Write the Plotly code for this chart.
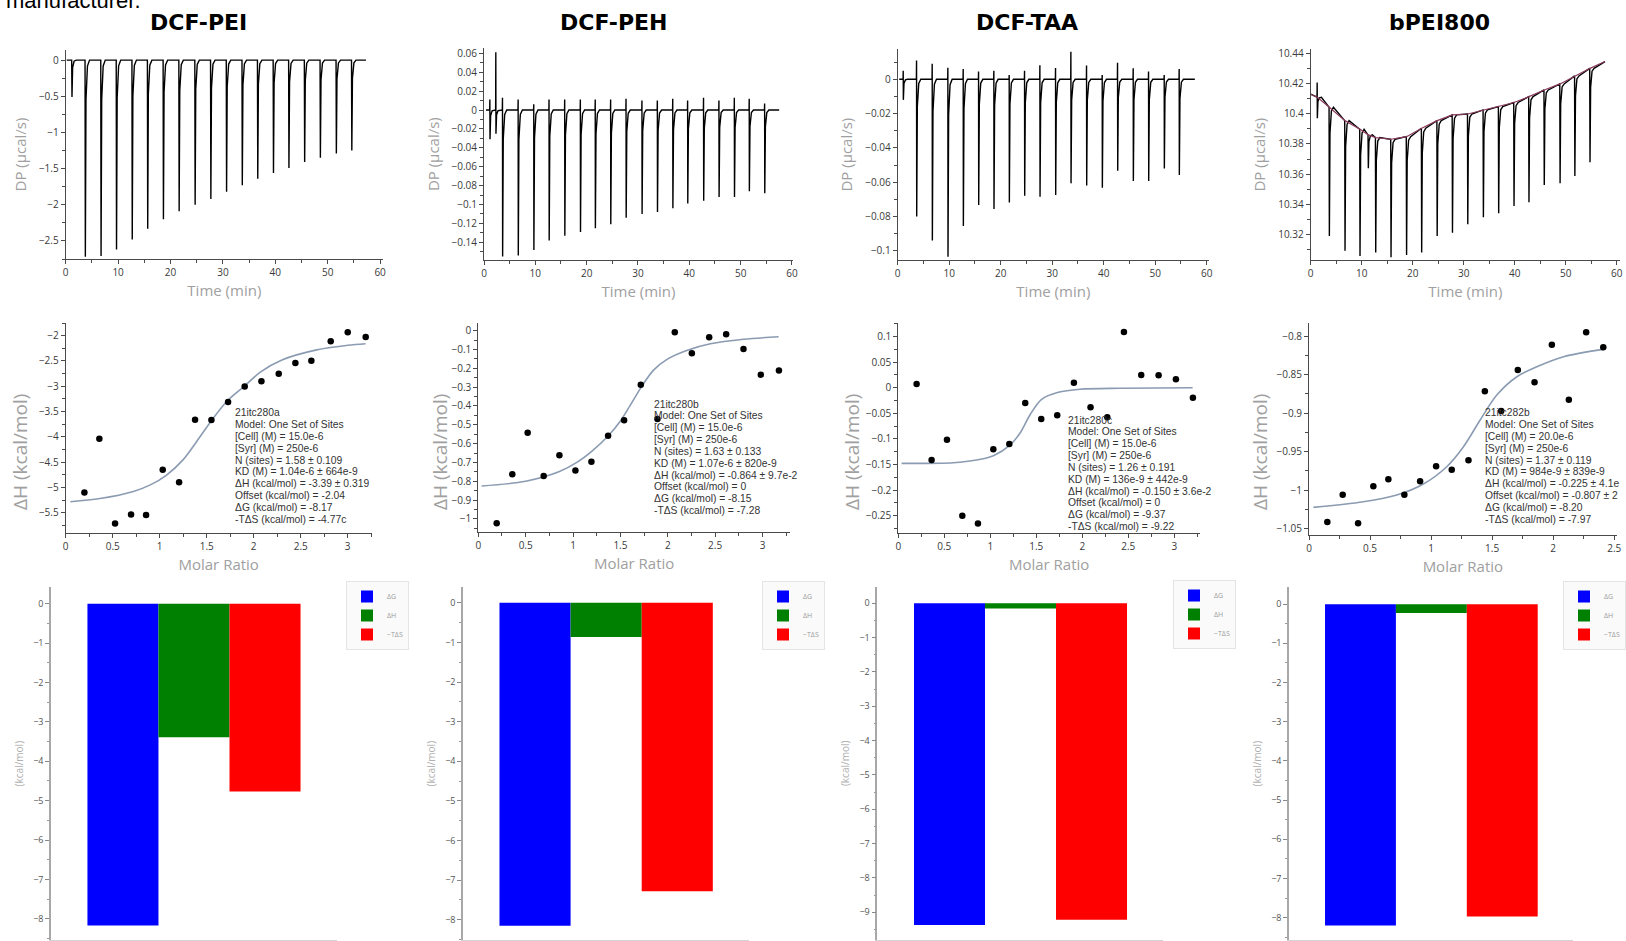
import plotly.graph_objects as go

W, H = 1626, 941

# ------------------------------------------------------------------ data
titles = ["DCF-PEI", "DCF-PEH", "DCF-TAA", "bPEI800"]

# Row 1 : raw thermograms (time in min, DP in µcal/s)
pei_t_span = [0.2, 57.3]
pei_base_span = [0.0, 0.0]
pei_inj_t = [1.2, 3.75, 6.75, 9.7, 12.7, 15.65, 18.65, 21.65, 24.7, 27.7, 30.7,
             33.7, 36.65, 39.65, 42.6, 45.6, 48.6, 51.65, 54.6]
pei_inj_peak = [-0.51, -2.72, -2.71, -2.62, -2.48, -2.33, -2.20, -2.09, -2.00, -1.92,
                -1.82, -1.73, -1.64, -1.56, -1.49, -1.41, -1.35, -1.29, -1.25]

peh_t_span = [0.4, 57.5]
peh_base_span = [0.0, 0.0]
peh_inj_t = [1.17, 2.33, 3.63, 6.68, 9.72, 12.7, 15.75, 18.8, 21.7, 24.7, 27.7, 30.8,
             33.8, 36.8, 39.7, 42.8, 45.8, 48.8, 51.7, 54.7]
peh_inj_peak = [-0.031, -0.025, -0.155, -0.154, -0.148, -0.138, -0.133, -0.129, -0.125,
                -0.121, -0.114, -0.110, -0.108, -0.104, -0.099, -0.096, -0.092, -0.092,
                -0.086, -0.088]
peh_inj_up = [0.011, 0.061, 0.013, 0.011, 0.006, 0.011, 0.011, 0.011, 0.011, 0.011,
              0.012, 0.010, 0.010, 0.012, 0.010, 0.013, 0.010, 0.013, 0.012, 0.007]

taa_t_span = [0.3, 57.7]
taa_base_span = [0.0, 0.0]
taa_inj_t = [1.1, 3.69, 6.73, 9.77, 12.75, 15.73, 18.7, 21.68, 24.66, 27.64, 30.68,
             33.66, 36.7, 39.74, 42.72, 45.76, 48.74, 51.78, 54.69]
taa_inj_peak = [-0.012, -0.080, -0.094, -0.1035, -0.0856, -0.0733, -0.0757, -0.0718,
                -0.0679, -0.0685, -0.0675, -0.0607, -0.062, -0.0632, -0.0533, -0.0593,
                -0.0593, -0.052, -0.0558]
taa_inj_up = [0.005, 0.011, 0.009, 0.0068, 0.006, 0.0045, 0.005, 0.0025, 0.005, 0.0082,
              0.0066, 0.016, 0.008, 0.0025, 0.0097, 0.0064, 0.0045, 0.0025, 0.006]

bpei_t_span = [0.0, 57.7]
bpei_base_span = [10.4129, 10.4345]
bpei_inj_t = [1.3, 3.66, 6.73, 9.67, 11.3, 12.75, 15.75, 18.8, 21.76, 24.8, 27.8, 30.8,
              33.86, 36.86, 39.87, 42.8, 45.8, 48.9, 51.8, 54.77]
bpei_inj_base = [10.4109, 10.4043, 10.3954, 10.3897, 10.386, 10.3842, 10.3831, 10.3848,
                 10.3904, 10.3954, 10.3992, 10.3998, 10.4025, 10.4047, 10.4074, 10.4113,
                 10.4157, 10.4197, 10.425, 10.43]
bpei_inj_peak = [10.397, 10.3191, 10.3094, 10.3059, 10.3639, 10.3081, 10.305, 10.3065,
                 10.3081, 10.3191, 10.3213, 10.3268, 10.3315, 10.3341, 10.339, 10.3414,
                 10.3529, 10.354, 10.3588, 10.3679]
bpei_inj_up = [10.4206] + [None] * 19

# Row 2 : integrated heats (molar ratio, ΔH kcal/mol) and fitted curves
pei_ratio = [0.199, 0.358, 0.525, 0.695, 0.855, 1.032, 1.206, 1.376, 1.55, 1.727, 1.904,
             2.082, 2.266, 2.443, 2.613, 2.819, 3.0, 3.191]
pei_dh = [-5.098, -4.037, -5.711, -5.533, -5.546, -4.65, -4.90, -3.661, -3.668, -3.312,
          -3.002, -2.903, -2.751, -2.541, -2.494, -2.112, -1.934, -2.026]
pei_fit_x = [0.05, 0.365, 0.72, 0.9, 1.07, 1.25, 1.39, 1.55, 1.713, 1.9, 2.07, 2.3, 2.67,
             3.0, 3.19]
pei_fit_y = [-5.284, -5.22, -5.08, -4.95, -4.76, -4.45, -4.1, -3.68, -3.3, -3.0, -2.72,
             -2.48, -2.28, -2.19, -2.158]

peh_ratio = [0.194, 0.359, 0.521, 0.69, 0.856, 1.025, 1.194, 1.37, 1.539, 1.715, 1.891,
             2.074, 2.254, 2.437, 2.616, 2.799, 2.982, 3.173]
peh_dh = [-1.023, -0.763, -0.543, -0.772, -0.662, -0.743, -0.697, -0.558, -0.476, -0.288,
          -0.469, -0.009, -0.120, -0.035, -0.019, -0.097, -0.234, -0.212]
peh_fit_x = [0.035, 0.5, 0.85, 1.04, 1.2, 1.37, 1.5, 1.6, 1.72, 1.85, 2.0, 2.2, 2.45,
             2.8, 3.17]
peh_fit_y = [-0.825, -0.80, -0.75, -0.70, -0.64, -0.56, -0.48, -0.40, -0.30, -0.21,
             -0.15, -0.105, -0.07, -0.046, -0.033]

taa_ratio = [0.199, 0.362, 0.529, 0.696, 0.866, 1.033, 1.207, 1.38, 1.554, 1.728, 1.909,
             2.09, 2.272, 2.453, 2.641, 2.83, 3.018, 3.203]
taa_dh = [0.0074, -0.1412, -0.1014, -0.25, -0.265, -0.1203, -0.1099, -0.0297, -0.061,
          -0.0538, 0.01, -0.0382, -0.0578, 0.1091, 0.025, 0.0244, 0.0166, -0.0193]
taa_fit_x = [0.036, 0.598, 0.851, 1.033, 1.214, 1.322, 1.431, 1.558, 1.739, 1.975, 2.41,
             3.2]
taa_fit_y = [-0.1477, -0.1464, -0.1412, -0.1327, -0.1119, -0.089, -0.0532, -0.0226,
             -0.0089, -0.003, -0.001, 0.0]

bpei_ratio = [0.150, 0.276, 0.402, 0.527, 0.650, 0.781, 0.910, 1.041, 1.169, 1.306, 1.44,
              1.574, 1.71, 1.847, 1.989, 2.128, 2.27, 2.41]
bpei_dh = [-1.0413, -1.0059, -1.0431, -0.995, -0.986, -1.0059, -0.9886, -0.9691, -0.9734,
           -0.9613, -0.8718, -0.8973, -0.8441, -0.8601, -0.8112, -0.8826, -0.7952, -0.8147]
bpei_fit_x = [0.036, 0.445, 0.719, 0.937, 1.128, 1.265, 1.402, 1.538, 1.702, 1.866, 2.085,
              2.41]
bpei_fit_y = [-1.0223, -1.015, -1.0063, -0.992, -0.9696, -0.9436, -0.909, -0.8766,
              -0.8528, -0.8398, -0.8268, -0.8173]

fit_labels = [
    ["21itc280a", "Model: One Set of Sites", "[Cell] (M) = 15.0e-6", "[Syr] (M) = 250e-6",
     "N (sites) = 1.58 ± 0.109", "KD (M) = 1.04e-6 ± 664e-9",
     "ΔH (kcal/mol) = -3.39 ± 0.319", "Offset (kcal/mol) = -2.04",
     "ΔG (kcal/mol) = -8.17", "-TΔS (kcal/mol) = -4.77c"],
    ["21itc280b", "Model: One Set of Sites", "[Cell] (M) = 15.0e-6", "[Syr] (M) = 250e-6",
     "N (sites) = 1.63 ± 0.133", "KD (M) = 1.07e-6 ± 820e-9",
     "ΔH (kcal/mol) = -0.864 ± 9.7e-2", "Offset (kcal/mol) = 0",
     "ΔG (kcal/mol) = -8.15", "-TΔS (kcal/mol) = -7.28"],
    ["21itc280c", "Model: One Set of Sites", "[Cell] (M) = 15.0e-6", "[Syr] (M) = 250e-6",
     "N (sites) = 1.26 ± 0.191", "KD (M) = 136e-9 ± 442e-9",
     "ΔH (kcal/mol) = -0.150 ± 3.6e-2", "Offset (kcal/mol) = 0",
     "ΔG (kcal/mol) = -9.37", "-TΔS (kcal/mol) = -9.22"],
    ["21itc282b", "Model: One Set of Sites", "[Cell] (M) = 20.0e-6", "[Syr] (M) = 250e-6",
     "N (sites) = 1.37 ± 0.119", "KD (M) = 984e-9 ± 839e-9",
     "ΔH (kcal/mol) = -0.225 ± 4.1e", "Offset (kcal/mol) = -0.807 ± 2",
     "ΔG (kcal/mol) = -8.20", "-TΔS (kcal/mol) = -7.97"],
]

# Row 3 : thermodynamic signatures (kcal/mol)
bar_terms = ["ΔG", "ΔH", "−TΔS"]
pei_bars = [-8.17, -3.39, -4.77]
peh_bars = [-8.15, -0.864, -7.28]
taa_bars = [-9.37, -0.150, -9.22]
bpei_bars = [-8.20, -0.225, -7.97]

caption_fragment = "manufacturer."

# ------------------------------------------------------------------ helpers
def thermogram(t_span, base_span, inj_t, peaks, bases=None, ups=None):
    n = len(inj_t)
    bases = bases if bases is not None else [base_span[0]] * n
    ups = ups if ups is not None else [None] * n
    xs, ys = [t_span[0]], [base_span[0]]
    for t, p, b, u in zip(inj_t, peaks, bases, ups):
        xs.append(t - 0.06); ys.append(b)
        if u is not None:
            xs.append(t - 0.03); ys.append(u)
        xs.append(t); ys.append(p)
        xs.append(t + 0.12); ys.append(b + (p - b) * 0.2)
        xs.append(t + 0.4); ys.append(b + (p - b) * 0.03)
        xs.append(t + 0.8); ys.append(b)
    xs.append(t_span[1]); ys.append(base_span[1])
    return xs, ys


def dom_x(a, b):
    return [a / W, b / W]


def dom_y(top, bottom):
    return [1 - bottom / H, 1 - top / H]


TICK_FONT = dict(family="Open Sans", size=10, color="#3a3a3a")
TITLE_FONT = dict(family="Open Sans", size=15, color="#a0a0a0")
AX_LINE = "#4a4a4a"

# panel geometry: (x-left px, x-right px, y-top px, y-bottom px, xrange, yrange, xdtick, ydtick)
panels = [
    # row 1
    (65.7, 383, 50, 259, [0, 60.55], [-2.75, 0.14], 10, 0.5),
    (484, 793, 48.3, 260, [0, 60.2], [-0.1587, 0.0653], 10, 0.02),
    (897.7, 1209, 49.3, 260, [0, 60.45], [-0.1054, 0.0175], 10, 0.02),
    (1310.7, 1620, 49.3, 260, [0, 60.65], [10.3032, 10.4426], 10, 0.02),
    # row 2
    (65.7, 371.7, 322.7, 533.3, [0, 3.255], [-5.907, -1.743], 0.5, 0.5),
    (478.3, 790, 322.7, 532.3, [0, 3.29], [-1.071, 0.042], 0.5, 0.1),
    (898.3, 1200, 323.3, 532.7, [0, 3.28], [-0.2832, 0.126], 0.5, 0.05),
    (1309, 1616.7, 322.7, 535, [0, 2.52], [-1.0582, -0.7827], 0.5, 0.05),
    # row 3
    (51, 336.7, 587.3, 940, [-1.013, 3.009], [-8.54, 0.42], None, 1),
    (463, 749, 587.3, 940, [-1.013, 3.009], [-8.51, 0.39], None, 1),
    (877.3, 1163.3, 586.7, 940, [-1.017, 3.011], [-9.81, 0.485], None, 1),
    (1289, 1573.3, 587.3, 940, [-1.008, 3.002], [-8.57, 0.43], None, 1),
]

fig = go.Figure()
layout = dict(
    width=W, height=H, margin=dict(l=0, r=0, t=0, b=0),
    paper_bgcolor="white", plot_bgcolor="white",
    font=dict(family="Open Sans", color="#333"),
    barmode="overlay", showlegend=True,
)

for i, (xl, xr, yt, yb, xr_, yr_, xdt, ydt) in enumerate(panels):
    n = i + 1
    xa = "xaxis" if n == 1 else f"xaxis{n}"
    ya = "yaxis" if n == 1 else f"yaxis{n}"
    xid = "x" if n == 1 else f"x{n}"
    yid = "y" if n == 1 else f"y{n}"
    row = i // 4
    if row < 2:
        layout[xa] = dict(
            domain=dom_x(xl, xr), range=xr_, anchor=yid, showgrid=False, zeroline=False,
            showline=True, linecolor=AX_LINE, linewidth=1, ticks="outside", ticklen=4,
            tickcolor=AX_LINE, dtick=xdt, tick0=0, tickfont=TICK_FONT,
            ticklabeloverflow="allow",
            minor=dict(dtick=xdt / 2, ticks="outside", ticklen=3, tickcolor=AX_LINE),
            title=dict(text="Time (min)" if row == 0 else "Molar Ratio", font=TITLE_FONT,
                       standoff=7),
            automargin=False,
        )
        layout[ya] = dict(
            domain=dom_y(yt, yb), range=yr_, anchor=xid, showgrid=False, zeroline=False,
            showline=True, linecolor=AX_LINE, linewidth=1, ticks="outside", ticklen=4,
            tickcolor=AX_LINE, dtick=ydt, tick0=0, tickfont=TICK_FONT,
            ticklabeloverflow="allow",
            minor=dict(dtick=ydt / 2, ticks="outside", ticklen=3, tickcolor=AX_LINE),
            title=dict(text="DP (µcal/s)" if row == 0 else "",
                       font=TITLE_FONT, standoff=8),
            automargin=False,
        )
    else:
        layout[xa] = dict(
            domain=dom_x(xl, xr), range=xr_, anchor=yid, type="category",
            showgrid=False, zeroline=False, showline=True, linecolor="#d4d4d4",
            linewidth=1.5, showticklabels=False, ticks="", automargin=False,
        )
        layout[ya] = dict(
            domain=dom_y(yt, yb), range=yr_, anchor=xid, showgrid=False, zeroline=False,
            showline=True, linecolor="#a8a8a8", linewidth=1.5, ticks="outside",
            ticklen=4, tickcolor="#888", dtick=1, tick0=0,
            tickfont=dict(family="Open Sans", size=9, color="#555"),
            ticklabeloverflow="allow",
            minor=dict(dtick=0.5, ticks="outside", ticklen=2, tickcolor="#999"),
            title=dict(text="(kcal/mol)",
                       font=dict(family="Open Sans", size=10, color="#b0b0b0"),
                       standoff=8),
            automargin=False,
        )

# ---- Row 1 traces
thermo_sets = [
    thermogram(pei_t_span, pei_base_span, pei_inj_t, pei_inj_peak),
    thermogram(peh_t_span, peh_base_span, peh_inj_t, peh_inj_peak, ups=peh_inj_up),
    thermogram(taa_t_span, taa_base_span, taa_inj_t, taa_inj_peak, ups=taa_inj_up),
    thermogram(bpei_t_span, bpei_base_span, bpei_inj_t, bpei_inj_peak,
               bases=bpei_inj_base, ups=bpei_inj_up),
]
for i, (xs, ys) in enumerate(thermo_sets):
    n = i + 1
    fig.add_trace(go.Scatter(
        x=xs, y=ys, mode="lines", line=dict(color="black", width=1.4),
        xaxis="x" if n == 1 else f"x{n}", yaxis="y" if n == 1 else f"y{n}",
        showlegend=False, hoverinfo="skip"))

# bPEI800 baseline (maroon)
fig.add_trace(go.Scatter(
    x=[bpei_t_span[0]] + bpei_inj_t + [bpei_t_span[1]],
    y=[bpei_base_span[0]] + bpei_inj_base + [bpei_base_span[1]],
    mode="lines", line=dict(color="#8a3a5c", width=1.2),
    xaxis="x4", yaxis="y4", showlegend=False, hoverinfo="skip"))

# ---- Row 2 traces
row2 = [
    (pei_ratio, pei_dh, pei_fit_x, pei_fit_y),
    (peh_ratio, peh_dh, peh_fit_x, peh_fit_y),
    (taa_ratio, taa_dh, taa_fit_x, taa_fit_y),
    (bpei_ratio, bpei_dh, bpei_fit_x, bpei_fit_y),
]
for i, (rx, ry, fx, fy) in enumerate(row2):
    n = i + 5
    fig.add_trace(go.Scatter(
        x=fx, y=fy, mode="lines", line=dict(color="#8a9bb2", width=1.6, shape="spline",
                                            smoothing=0.9),
        xaxis=f"x{n}", yaxis=f"y{n}", showlegend=False, hoverinfo="skip"))
    fig.add_trace(go.Scatter(
        x=rx, y=ry, mode="markers", marker=dict(color="black", size=6.5),
        xaxis=f"x{n}", yaxis=f"y{n}", showlegend=False))

# ---- Row 3 traces
bar_colors = ["#0000ff", "#008000", "#ff0000"]
bar_sets = [pei_bars, peh_bars, taa_bars, bpei_bars]
legend_pos = [(346, 581), (762, 581), (1173, 580), (1626, 581)]
for i, vals in enumerate(bar_sets):
    n = i + 9
    lg = "legend" if i == 0 else f"legend{i + 1}"
    for term, v, c in zip(bar_terms, vals, bar_colors):
        fig.add_trace(go.Bar(
            x=[term], y=[v], width=1, marker=dict(color=c, line=dict(width=0)),
            name=term, legend=lg, xaxis=f"x{n}", yaxis=f"y{n}", showlegend=True))
    lx, ly = legend_pos[i]
    layout[lg] = dict(
        x=lx / W, y=1 - ly / H, xanchor="right" if i == 3 else "left", yanchor="top",
        xref="paper", yref="paper",
        font=dict(family="Open Sans", size=7, color="#9a9a9a"),
        bgcolor="#fafafa", bordercolor="#e4e4e4", borderwidth=1,
        itemwidth=30, tracegroupgap=0, traceorder="normal",
    )

# ---- annotations
annotations = []
title_cx = [198, 613, 1027, 1439]
for t, cx in zip(titles, title_cx):
    annotations.append(dict(
        x=cx / W, y=1 - 22.5 / H, xref="paper", yref="paper", text=t, showarrow=False,
        xanchor="center", yanchor="middle",
        font=dict(family="DejaVu Sans", size=22, color="black", weight="bold")))

# row-2 y-axis titles (placed lower than the axis centre, as in the reference)
dh_title_x = [20, 440, 852, 1260]
for cx in dh_title_x:
    annotations.append(dict(
        x=cx / W, y=1 - 452 / H, xref="paper", yref="paper", text="ΔH (kcal/mol)",
        showarrow=False, textangle=-90, xanchor="center", yanchor="middle",
        font=dict(family="Open Sans", size=19, color="#a0a0a0")))

text_pos = [(233.3, 412.7), (652.3, 404.0), (1065.7, 420.0), (1483.3, 412.7)]
for lines, (x0, y0) in zip(fit_labels, text_pos):
    for k, line in enumerate(lines):
        annotations.append(dict(
            x=x0 / W, y=1 - (y0 + k * 11.85) / H, xref="paper", yref="paper", text=line,
            showarrow=False, xanchor="left", yanchor="middle",
            font=dict(family="Liberation Sans", size=10.3, color="#333")))

annotations.append(dict(
    x=4 / W, y=1.0, xref="paper", yref="paper", text=caption_fragment,
    showarrow=False, xanchor="left", yanchor="middle",
    font=dict(family="Liberation Sans", size=22, color="black")))

layout["annotations"] = annotations
fig.update_layout(**layout)
fig.write_html("out.html", config={"displayModeBar": False},
               post_script="document.body.style.margin='0';"
                           "document.body.style.overflow='hidden';")
